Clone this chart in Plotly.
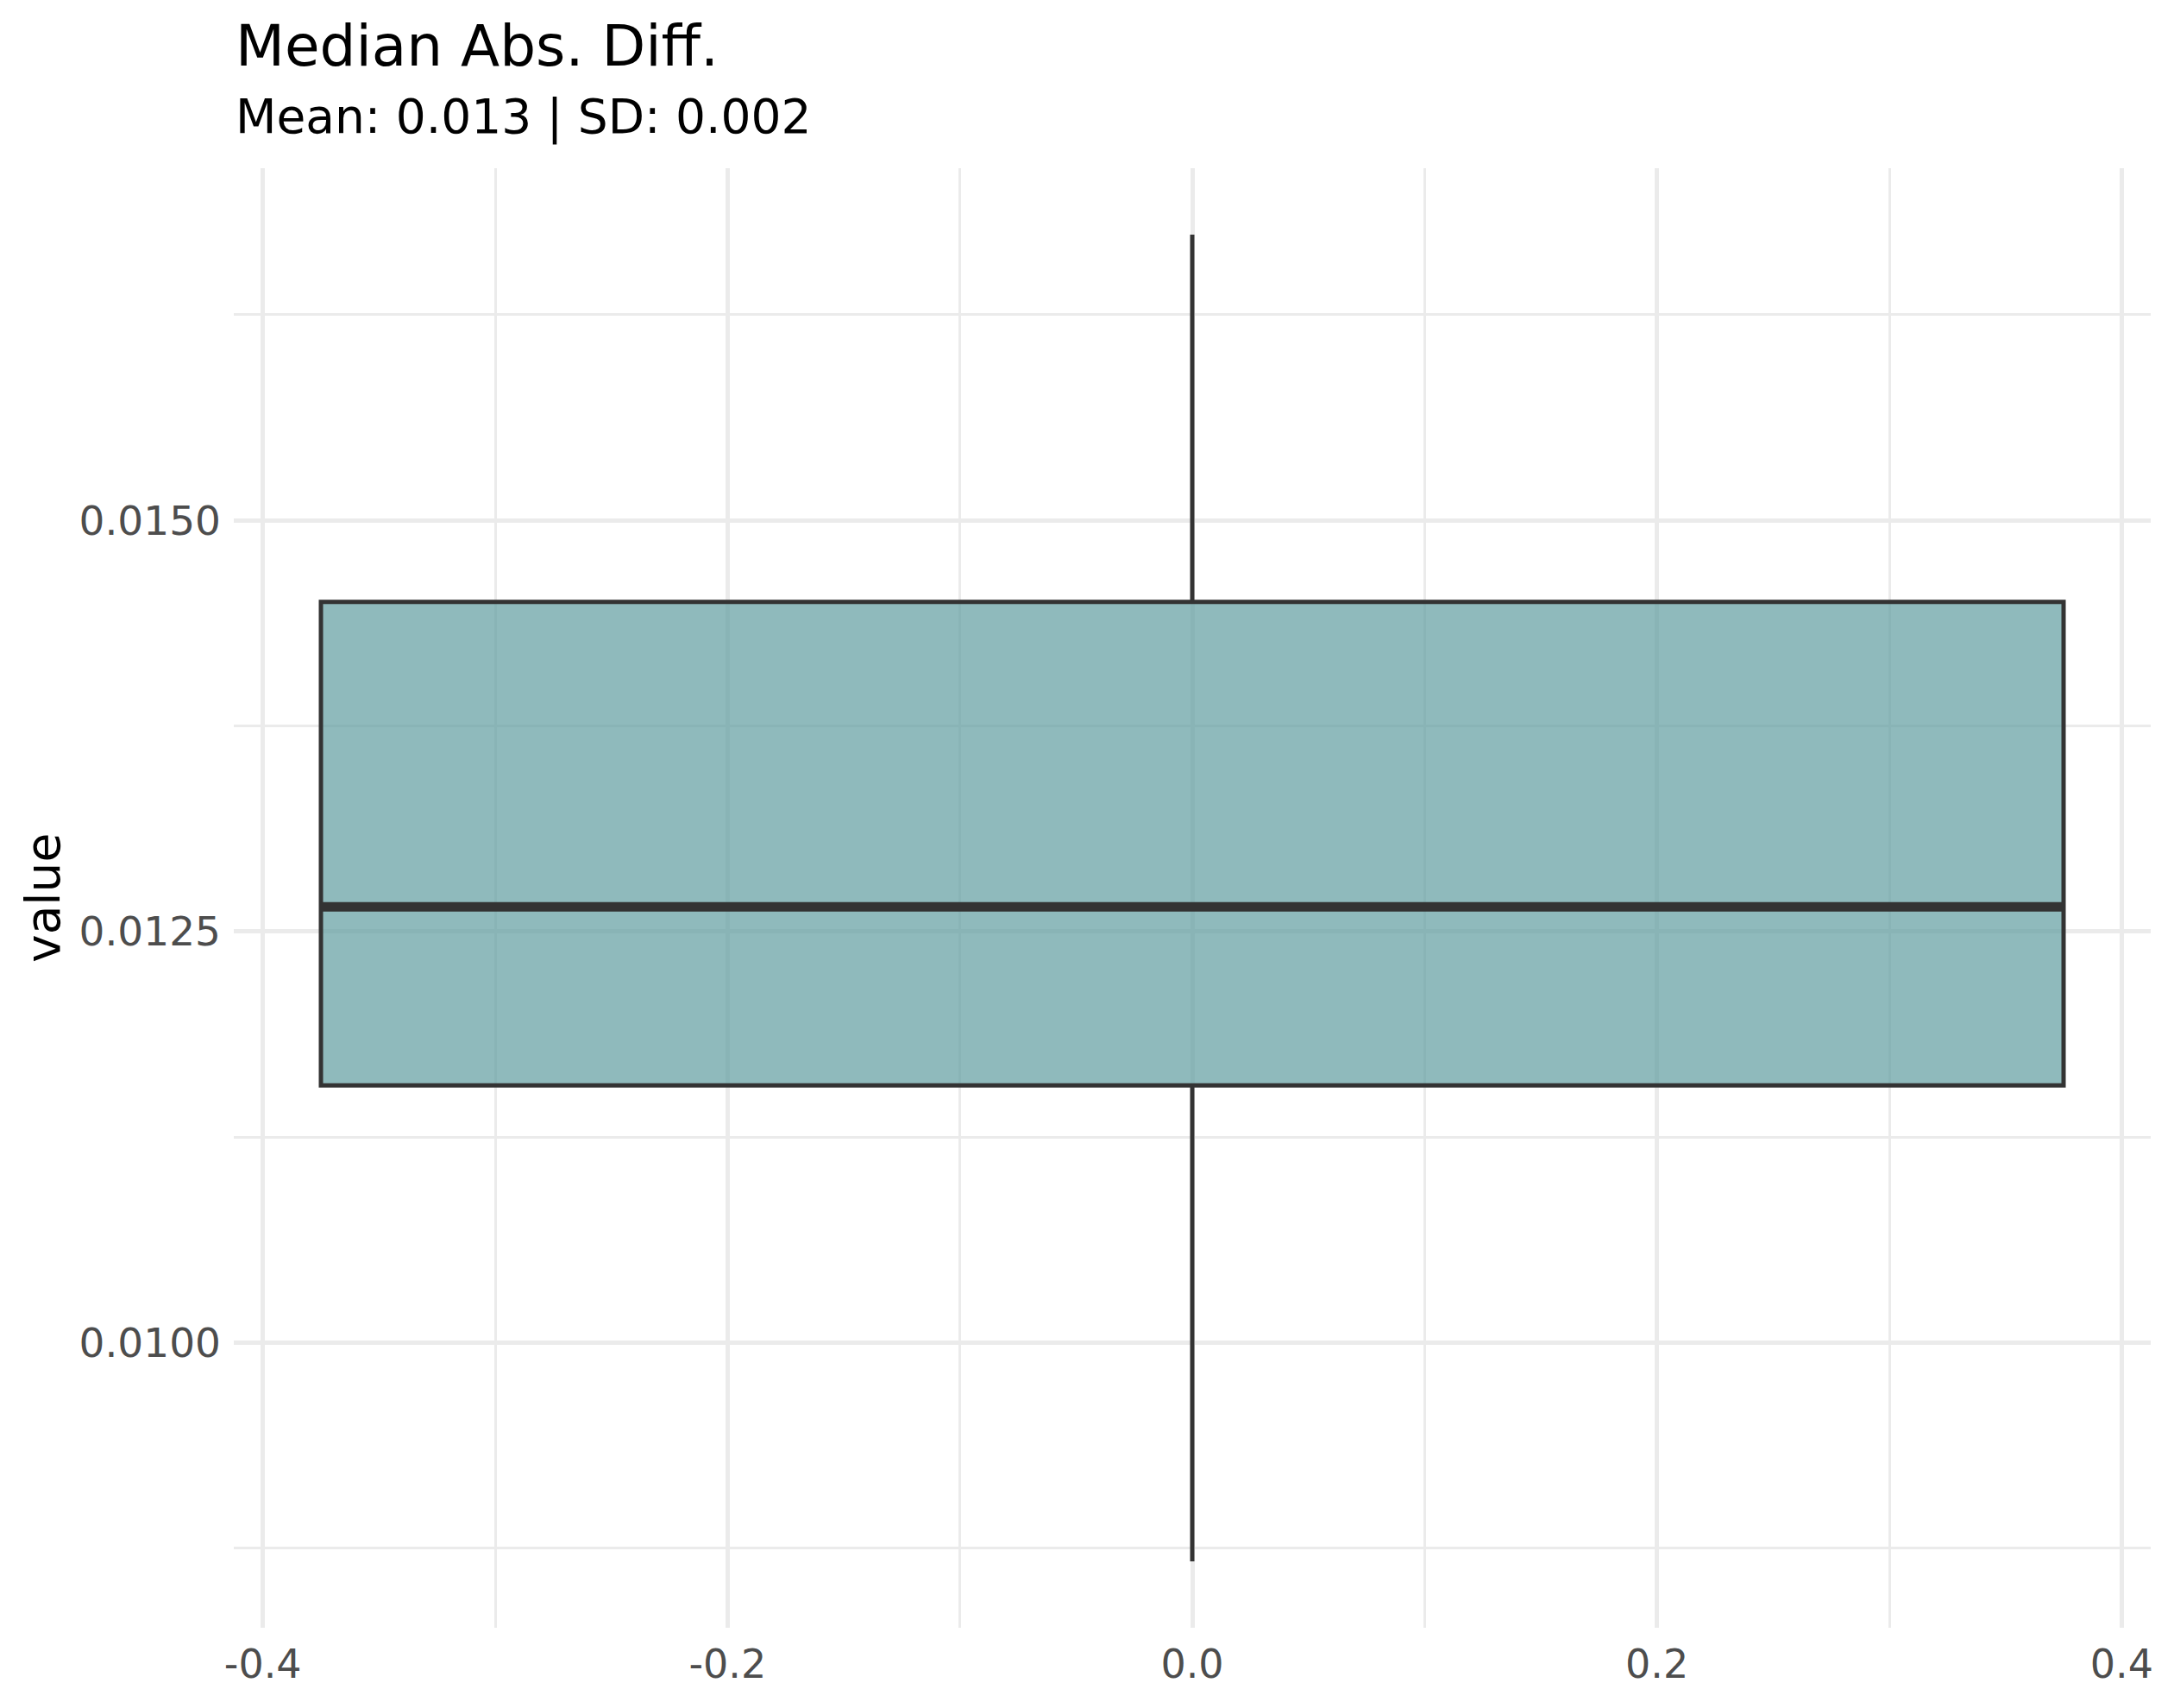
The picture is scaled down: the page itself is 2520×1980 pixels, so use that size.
import plotly.graph_objects as go

# box statistics
positions = [0.0]
lower_fence = [0.00867]
q1 = [0.011565]
median = [0.01265]
q3 = [0.014504]
upper_fence = [0.016738]
box_width = 0.75

title = "Median Abs. Diff."
subtitle = "Mean: 0.013 | SD: 0.002"
y_label = "value"

x_ticks = [-0.4, -0.2, 0.0, 0.2, 0.4]
y_ticks = [0.0100, 0.0125, 0.0150]

fig = go.Figure()

fig.add_trace(go.Box(
    x=positions, q1=q1, median=median, q3=q3,
    lowerfence=lower_fence, upperfence=upper_fence,
    width=box_width, whiskerwidth=0,
    fillcolor="rgba(95,156,159,0.7)",
    line=dict(color="#333333", width=5),
    boxpoints=False, showlegend=False, hoverinfo="skip",
))

# ggplot draws the median thicker than the box outline
fig.add_trace(go.Scatter(
    x=[positions[0] - box_width / 2, positions[0] + box_width / 2],
    y=[median[0], median[0]],
    mode="lines", line=dict(color="#333333", width=11),
    showlegend=False, hoverinfo="skip",
))

font = "DejaVu Sans"
grid = "#EBEBEB"

# ggplot default 5% expansion
lo, hi = -box_width / 2, box_width / 2
xpad = (hi - lo) * 0.05
ylo, yhi = lower_fence[0], upper_fence[0]
ypad = (yhi - ylo) * 0.05

fig.update_layout(
    width=2520, height=1980,
    # page body has an 8px margin, so shift everything up/left by 8
    margin=dict(l=263, r=35, t=187, b=101),
    plot_bgcolor="white", paper_bgcolor="white",
    font=dict(family=font, color="#4D4D4D"),
    xaxis=dict(
        range=[lo - xpad, hi + xpad],
        tickvals=x_ticks, ticktext=[f"{v:.1f}" for v in x_ticks],
        showgrid=True, gridcolor=grid, gridwidth=5,
        zeroline=False, showline=False, ticks="",
        tickfont=dict(size=46, color="#4D4D4D", family=font),
        ticklabelstandoff=11,
        minor=dict(dtick=0.1, tick0=0, showgrid=True, gridcolor=grid, gridwidth=2.5),
    ),
    yaxis=dict(
        range=[ylo - ypad, yhi + ypad],
        tickvals=y_ticks, tickformat=".4f",
        showgrid=True, gridcolor=grid, gridwidth=5,
        zeroline=False, showline=False, ticks="",
        tickfont=dict(size=47, color="#4D4D4D", family=font),
        ticklabelstandoff=14,
        minor=dict(dtick=0.00125, tick0=0.01, showgrid=True, gridcolor=grid, gridwidth=2.5),
    ),
    annotations=[
        dict(text=title, xref="paper", yref="paper", x=0, y=1.0839,
             xanchor="left", yanchor="middle", showarrow=False,
             font=dict(size=66, color="black", family=font)),
        dict(text=subtitle, xref="paper", yref="paper", x=0, y=1.0349,
             xanchor="left", yanchor="middle", showarrow=False,
             font=dict(size=55, color="black", family=font)),
        dict(text=y_label, xref="paper", yref="paper", x=-0.0995, y=0.5,
             xanchor="center", yanchor="middle", textangle=-90, showarrow=False,
             font=dict(size=55, color="black", family=font)),
    ],
)

fig.write_html("out.html")
